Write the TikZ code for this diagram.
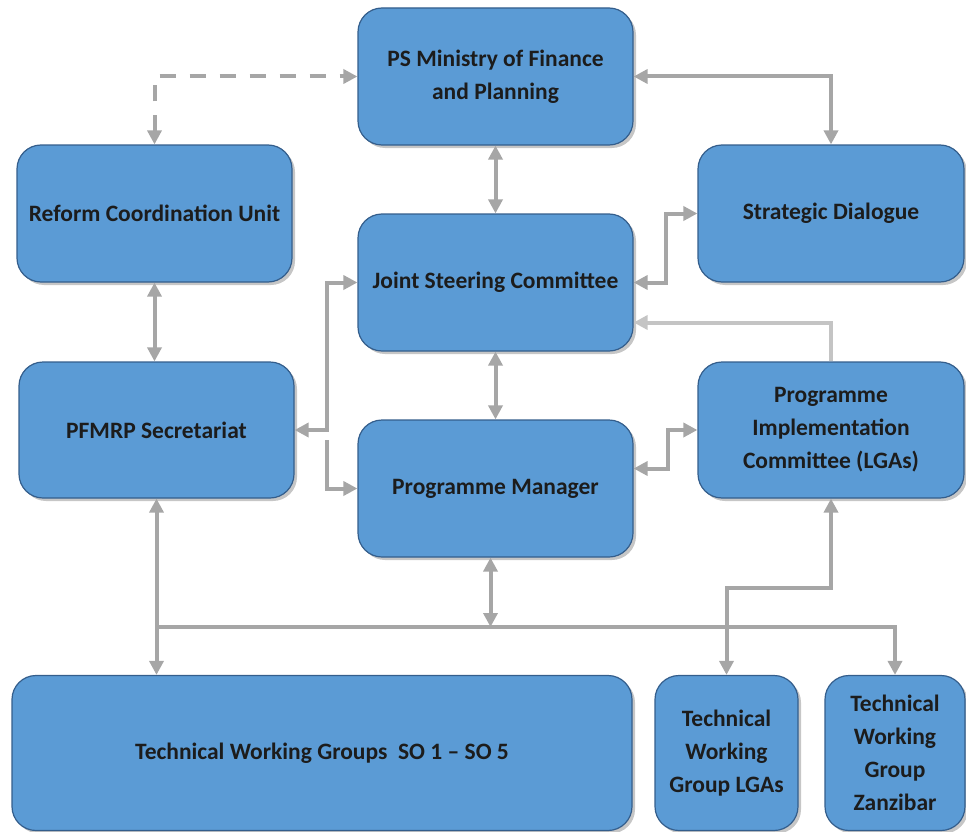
\documentclass[tikz,border=0pt]{standalone}
\usepackage{fontspec}
\setmainfont{Carlito}
\usetikzlibrary{arrows.meta,shadows,calc}
\definecolor{boxfill}{RGB}{91,155,213}
\definecolor{boxline}{RGB}{52,94,140}
\definecolor{txt}{RGB}{28,28,28}
\definecolor{conn}{RGB}{166,166,166}
\definecolor{connlight}{RGB}{196,196,196}
\begin{document}
\begin{tikzpicture}[x=1pt,y=-1pt,
  box/.style={draw=boxline, line width=1.2pt, fill=boxfill, rounded corners=24pt,
    align=center, text=txt, font=\fontsize{23.5}{33}\selectfont\bfseries, inner sep=4pt,
    drop shadow={opacity=0.45, shadow xshift=3pt, shadow yshift=-3pt}},
  link/.style={draw=conn, line width=4pt},
  tip/.tip={Triangle[length=14pt,width=14pt]},
  dlink/.style={link,{tip}-{tip}},
  slink/.style={link,-{tip}}]
\useasboundingbox (0,0) rectangle (966,832);
\node[box, minimum width=275pt, minimum height=137pt] (ps) at (495.5,76.5) {PS Ministry of Finance\\and Planning};
\node[box, minimum width=275pt, minimum height=137pt] (rcu) at (154.5,213.5) {Reform Coordination Unit};
\node[box, minimum width=266pt, minimum height=137pt] (sd) at (831,213.5) {Strategic Dialogue};
\node[box, minimum width=275pt, minimum height=137pt] (jsc) at (495.5,282.5) {Joint Steering Committee};
\node[box, minimum width=275pt, minimum height=136pt] (pfm) at (156.5,430) {PFMRP Secretariat};
\node[box, minimum width=275pt, minimum height=137pt] (pm) at (495.5,488.5) {Programme Manager};
\node[box, minimum width=266pt, minimum height=136pt] (pic) at (831,430) {Programme\\Implementation\\Committee (LGAs)};
\node[box, minimum width=620pt, minimum height=155pt] (twg) at (322,753) {Technical Working Groups\ \ SO 1 -- SO 5};
\node[box, minimum width=143pt, minimum height=155pt] (twl) at (726.5,753) {Technical\\Working\\Group LGAs};
\node[box, minimum width=140pt, minimum height=155pt] (twz) at (895,753) {Technical\\Working\\Group\\Zanzibar};
\coordinate (bus) at (157,627);
% connectors
\draw[dlink, dash pattern=on 16pt off 14pt] (rcu.north) |- (ps.west);
\draw[dlink] (ps.east) -| (sd.north);
\draw[dlink] (ps.south) -- (jsc.north);
\draw[dlink] (jsc.east) -- ++(32,0) |- (sd.west);
\draw[link, draw=connlight, -{tip}] (pic.north) |- ([yshift=-40pt]jsc.east);
\draw[dlink] (rcu.south) -- (rcu.south |- pfm.north);
\draw[dlink] (pfm.east) -- ++(32,0) |- (jsc.west);
\draw[slink] ([xshift=32pt,yshift=-10pt]pfm.east) |- (pm.west);
\draw[dlink] (jsc.south) -- (pm.north);
\draw[dlink] ([yshift=20pt]pm.east) -- ++(34,0) |- (pic.west);
\draw[dlink] (pfm.south) -- (pfm.south |- twg.north);
\draw[slink] (bus) -| (twz.north);
\draw[dlink] ([xshift=-5pt]pm.south) -- ([xshift=-5pt]pm.south |- bus);
\draw[dlink] (pic.south) -- ++(0,89) -| (twl.north);
\end{tikzpicture}
\end{document}
